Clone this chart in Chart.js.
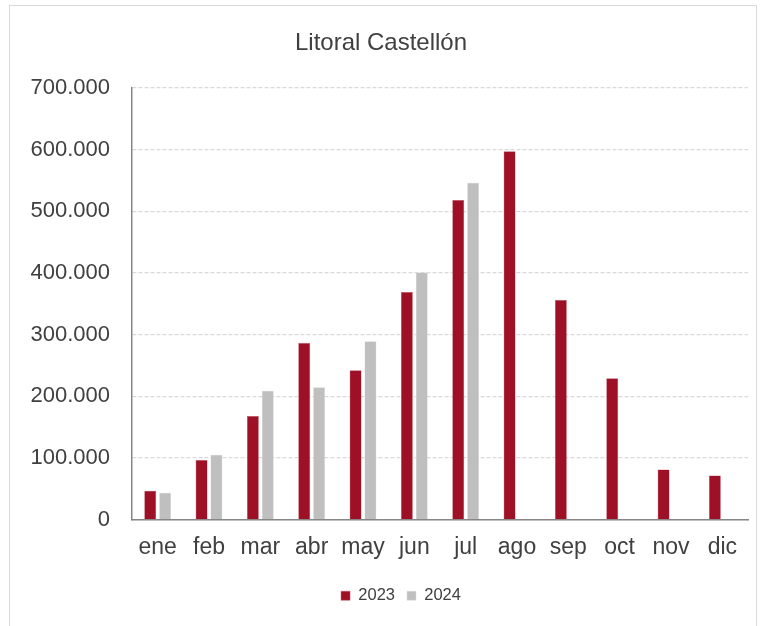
<!DOCTYPE html>
<html>
<head>
<meta charset="utf-8">
<script src="https://cdn.jsdelivr.net/npm/chart.js@4.4.1/dist/chart.umd.min.js"></script>
<style>
  html, body { margin: 0; padding: 0; background: #fff; }
  #wrap { position: relative; width: 762px; height: 626px; overflow: hidden; }
  #frame { position: absolute; left: 9px; top: 5px; width: 746px; height: 640px; border: 1px solid #d9d9d9; }
  canvas { position: absolute; left: 0; top: 0; }
</style>
</head>
<body>
<div id="wrap">
  <div id="frame"></div>
  <canvas id="chart" width="762" height="626"></canvas>
</div>
<script>
// Months and visitor counts per year
const months = ['ene', 'feb', 'mar', 'abr', 'may', 'jun', 'jul', 'ago', 'sep', 'oct', 'nov', 'dic'];
const values2023 = [46700, 96400, 168000, 286000, 242000, 369000, 518000, 597000, 356000, 229000, 81000, 71500];
const values2024 = [43400, 105000, 208600, 214600, 289000, 400500, 546000, null, null, null, null, null];
const yTicks = [0, 100000, 200000, 300000, 400000, 500000, 600000, 700000];

const textColor = '#404040';
const fontFamily = 'Liberation Sans, Arial, sans-serif';

// Spanish style thousand separator
function formatThousands(v) {
    return v.toString().replace(/\B(?=(\d{3})+(?!\d))/g, '.');
}

new Chart(document.getElementById('chart'), {
    type: 'bar',
    data: {
        labels: months,
        datasets: [{
            label: '2023',
            data: values2023,
            backgroundColor: '#9e1026',
            borderColor: '#c65566',
            borderWidth: 0.5
        }, {
            label: '2024',
            data: values2024,
            backgroundColor: '#bfbfbf',
            borderColor: '#dcdcdc',
            borderWidth: 0.5
        }]
    },
    options: {
        responsive: false,
        animation: false,
        categoryPercentage: 0.58,
        barPercentage: 0.8,
        layout: { padding: { left: 14, right: 14, top: 15, bottom: 12 } },
        plugins: {
            title: {
                display: true,
                text: 'Litoral Castellón',
                color: textColor,
                font: { family: fontFamily, size: 24, weight: 'normal' },
                padding: { top: 14, bottom: 30 }
            },
            legend: {
                position: 'bottom',
                labels: {
                    color: textColor,
                    font: { family: fontFamily, size: 16.5 },
                    boxWidth: 9,
                    boxHeight: 9,
                    padding: 12
                }
            },
            tooltip: { enabled: false }
        },
        scales: {
            x: {
                afterFit: (axis) => { axis.height = 56; },
                grid: { display: false, drawTicks: false },
                border: { color: '#868686', width: 1.5 },
                ticks: {
                    color: textColor,
                    padding: 14,
                    maxRotation: 0,
                    minRotation: 0,
                    autoSkip: false,
                    font: { family: fontFamily, size: 23 }
                }
            },
            y: {
                min: 0,
                max: 700000,
                afterBuildTicks: (axis) => { axis.ticks = yTicks.map(v => ({ value: v })); },
                afterFit: (axis) => { axis.width = 118; },
                grid: { color: '#d9d9d9', drawTicks: false, lineWidth: 1.2 },
                border: { color: '#868686', width: 1.5, dash: [4, 2] },
                ticks: {
                    color: textColor,
                    padding: 22,
                    font: { family: fontFamily, size: 22 },
                    callback: (v) => formatThousands(v)
                }
            }
        }
    },
    plugins: [{
        // legend sits a little right of the canvas centre in the original
        id: 'legendShift',
        afterLayout(chart) {
            chart.legend.left += 20;
            chart.legend.right += 20;
        }
    }]
});
</script>
</body>
</html>
